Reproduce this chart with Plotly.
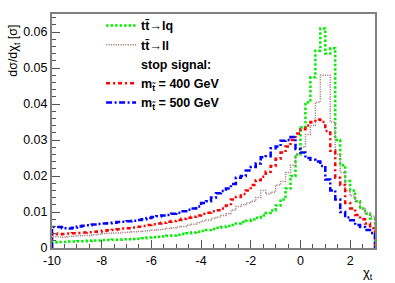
import numpy as np
import plotly.graph_objects as go

# bin edges: 65 bins of width 0.2 from -10 to 3
bin_edges = np.round(np.linspace(-10, 3, 66), 3)

tt_lq = [0.0016, 0.0017, 0.0017, 0.0018, 0.0018, 0.0019, 0.0019, 0.0020, 0.0021, 0.0021,
         0.0022, 0.0022, 0.0023, 0.0023, 0.0024, 0.0024, 0.0025, 0.0026, 0.0027, 0.0029,
         0.0030, 0.0031, 0.0032, 0.0034, 0.0035, 0.0037, 0.0039, 0.0041, 0.0043, 0.0045,
         0.0047, 0.0050, 0.0053, 0.0056, 0.0058, 0.0061, 0.0064, 0.0068, 0.0072, 0.0076,
         0.0079, 0.0084, 0.0090, 0.0097, 0.0104, 0.0118, 0.0135, 0.0165, 0.0200, 0.0260,
         0.0335, 0.0405, 0.0474, 0.0548, 0.0610, 0.0540, 0.0555, 0.0300, 0.0230, 0.0186,
         0.0160, 0.0130, 0.0110, 0.0095, 0.0082]

tt_ll = [0.0031, 0.0031, 0.0030, 0.0032, 0.0033, 0.0034, 0.0035, 0.0035, 0.0037, 0.0038,
         0.0040, 0.0041, 0.0042, 0.0042, 0.0043, 0.0044, 0.0045, 0.0046, 0.0047, 0.0048,
         0.0049, 0.0051, 0.0052, 0.0054, 0.0056, 0.0058, 0.0060, 0.0063, 0.0066, 0.0070,
         0.0075, 0.0078, 0.0082, 0.0086, 0.0090, 0.0095, 0.0105, 0.0115, 0.0120, 0.0125,
         0.0130, 0.0140, 0.0160, 0.0150, 0.0155, 0.0175, 0.0185, 0.0210, 0.0230, 0.0260,
         0.0280, 0.0315, 0.0340, 0.0405, 0.0480, 0.0480, 0.0350, 0.0260, 0.0210, 0.0160,
         0.0145, 0.0130, 0.0110, 0.0097, 0.0088]

stop_400 = [0.0040, 0.0038, 0.0039, 0.0040, 0.0041, 0.0042, 0.0043, 0.0044, 0.0045, 0.0046,
            0.0048, 0.0049, 0.0050, 0.0052, 0.0054, 0.0055, 0.0057, 0.0059, 0.0061, 0.0064,
            0.0066, 0.0068, 0.0070, 0.0073, 0.0075, 0.0078, 0.0081, 0.0084, 0.0087, 0.0090,
            0.0095, 0.0098, 0.0102, 0.0105, 0.0110, 0.0118, 0.0135, 0.0142, 0.0150, 0.0160,
            0.0175, 0.0188, 0.0198, 0.0212, 0.0228, 0.0248, 0.0265, 0.0282, 0.0300, 0.0318,
            0.0330, 0.0340, 0.0350, 0.0357, 0.0350, 0.0325, 0.0270, 0.0195, 0.0175, 0.0125,
            0.0110, 0.0092, 0.0080, 0.0068, 0.0055]

stop_500 = [0.0058, 0.0058, 0.0055, 0.0054, 0.0056, 0.0060, 0.0062, 0.0063, 0.0065, 0.0067,
            0.0068, 0.0069, 0.0070, 0.0072, 0.0073, 0.0074, 0.0076, 0.0078, 0.0080, 0.0083,
            0.0086, 0.0088, 0.0090, 0.0092, 0.0095, 0.0098, 0.0102, 0.0106, 0.0110, 0.0115,
            0.0125, 0.0130, 0.0140, 0.0152, 0.0158, 0.0165, 0.0178, 0.0195, 0.0200, 0.0215,
            0.0225, 0.0235, 0.0252, 0.0255, 0.0277, 0.0282, 0.0298, 0.0300, 0.0308, 0.0275,
            0.0265, 0.0250, 0.0245, 0.0240, 0.0228, 0.0190, 0.0160, 0.0135, 0.0100, 0.0085,
            0.0077, 0.0064, 0.0058, 0.0050, 0.0042]

x_ticks = [-10, -8, -6, -4, -2, 0, 2]
x_tick_labels = ["-10", "-8", "-6", "-4", "-2", "0", "2"]
y_ticks = [0, 0.01, 0.02, 0.03, 0.04, 0.05, 0.06]
y_tick_labels = ["0", "0.01", "0.02", "0.03", "0.04", "0.05", "0.06"]


def step_xy(vals):
    xs = [bin_edges[0]] + list(bin_edges[:-1]) + [bin_edges[-1], bin_edges[-1]]
    ys = [0.0] + list(vals) + [vals[-1], 0.0]
    return xs, ys


fig = go.Figure()

series = [
    ("<b>tt̄→lq</b>", tt_lq, "#00f000", 2.5, "2.5px,2px"),
    ("<b>tt̄→ll</b>", tt_ll, "#a88080", 1.5, "1.2px,1.2px"),
    (None, None, None, None, None),
    ("<b>m<sub>t̃</sub> = 400 GeV</b>", stop_400, "#ff0000", 2.5, "4px,3px,2px,3px"),
    ("<b>m<sub>t̃</sub> = 500 GeV</b>", stop_500, "#0000ff", 2.5, "6px,2.5px,2px,2.5px"),
]

for name, vals, color, w, dash in series:
    if vals is None:
        fig.add_trace(go.Scatter(x=[None], y=[None], mode="lines",
                                 line=dict(width=0, color="rgba(0,0,0,0)"),
                                 name="<b>stop signal:</b>"))
        continue
    xs, ys = step_xy(vals)
    fig.add_trace(go.Scatter(x=xs, y=ys, mode="lines", line_shape="hv",
                             line=dict(color=color, width=w, dash=dash),
                             name=name))

axis_common = dict(showgrid=False, zeroline=False, showline=True, mirror=True,
                   linecolor="#808080", linewidth=2, ticks="inside",
                   tickcolor="#555555", tickwidth=1, ticklen=8,
                   tickfont=dict(family="Liberation Sans, Arial, sans-serif",
                                 size=12.5, color="black"))

fig.update_xaxes(range=[-10, 3], tickmode="array", tickvals=x_ticks,
                 ticktext=x_tick_labels,
                 minor=dict(ticks="inside", dtick=0.5, ticklen=4,
                            tickcolor="#555555", tickwidth=1),
                 **axis_common)
fig.update_yaxes(range=[0, 0.065], tickmode="array", tickvals=y_ticks,
                 ticktext=y_tick_labels,
                 minor=dict(ticks="inside", dtick=0.002, ticklen=4,
                            tickcolor="#555555", tickwidth=1),
                 **axis_common)

fig.update_layout(
    width=395, height=283,
    margin=dict(l=52, r=20, t=11, b=35),
    paper_bgcolor="white", plot_bgcolor="white",
    showlegend=True,
    legend=dict(x=0.152, y=1.013, xanchor="left", yanchor="top",
                bgcolor="rgba(0,0,0,0)", borderwidth=0,
                font=dict(family="Liberation Sans, Arial, sans-serif",
                          size=12.5, color="black"),
                tracegroupgap=0, traceorder="normal"),
    annotations=[
        dict(text="dσ/dχ<sub>t</sub> [σ]", xref="paper", yref="paper",
             x=-0.118, y=0.962, xanchor="center", yanchor="top",
             textangle=-90, showarrow=False,
             font=dict(family="Liberation Sans, Arial, sans-serif",
                       size=12.5, color="black")),
        dict(text="χ<sub>t</sub>", xref="paper", yref="paper",
             x=1.0, y=-0.065, xanchor="right", yanchor="top",
             showarrow=False,
             font=dict(family="Liberation Sans, Arial, sans-serif",
                       size=13, color="black")),
    ],
)

fig.write_html("out.html", config={"displayModeBar": False},
               post_script="document.body.style.margin='0';")
